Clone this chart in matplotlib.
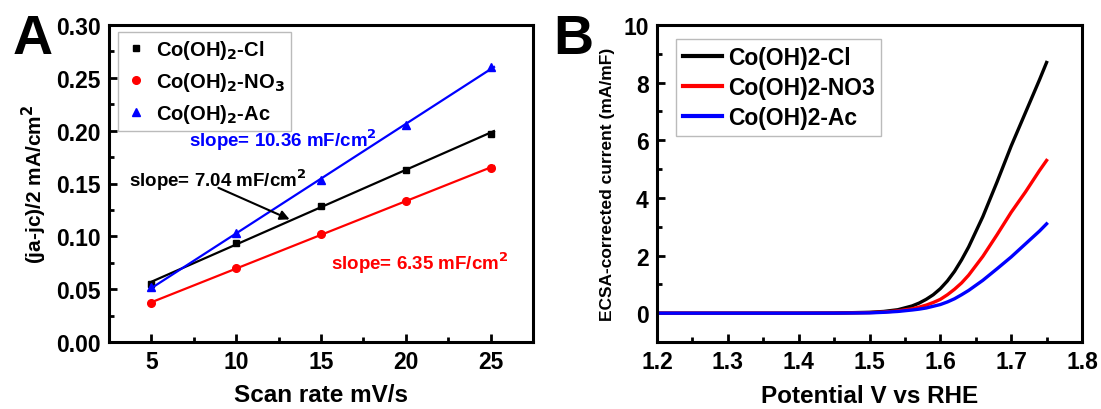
import matplotlib
matplotlib.use("Agg")
import matplotlib.pyplot as plt
import numpy as np
from matplotlib.ticker import MultipleLocator

plt.rcParams['font.family'] = ['Liberation Sans', 'DejaVu Sans']
plt.rcParams['font.weight'] = 'bold'
plt.rcParams['mathtext.default'] = 'bf'

# ---------------- Data: panel A ----------------
scan_rate = [5, 10, 15, 20, 25]
cl_vals = [0.055, 0.094, 0.129, 0.163, 0.197]
no3_vals = [0.037, 0.070, 0.102, 0.133, 0.165]
ac_vals = [0.052, 0.103, 0.153, 0.205, 0.260]
labels_a = [r'Co(OH)$_2$-Cl', r'Co(OH)$_2$-NO$_3$', r'Co(OH)$_2$-Ac']
slope_texts = ['slope= 7.04 mF/cm$^2$', 'slope= 6.35 mF/cm$^2$', 'slope= 10.36 mF/cm$^2$']

# ---------------- Data: panel B ----------------
potential = [1.20, 1.30, 1.40, 1.45, 1.50, 1.52, 1.54, 1.56, 1.57, 1.58, 1.59, 1.60,
             1.61, 1.62, 1.63, 1.64, 1.66, 1.68, 1.70, 1.72, 1.74, 1.75]
cur_cl = [0.0, 0.0, 0.0, 0.005, 0.03, 0.06, 0.12, 0.25, 0.35, 0.48, 0.64, 0.85,
          1.12, 1.45, 1.85, 2.3, 3.35, 4.55, 5.8, 6.95, 8.1, 8.7]
cur_no3 = [0.0, 0.0, 0.0, 0.003, 0.02, 0.04, 0.08, 0.15, 0.21, 0.28, 0.37, 0.48,
           0.64, 0.83, 1.05, 1.32, 1.97, 2.72, 3.5, 4.2, 4.95, 5.3]
cur_ac = [0.0, 0.0, 0.0, 0.002, 0.01, 0.03, 0.06, 0.11, 0.14, 0.18, 0.24, 0.30,
          0.39, 0.5, 0.64, 0.79, 1.14, 1.54, 1.95, 2.4, 2.85, 3.1]
labels_b = ['Co(OH)2-Cl', 'Co(OH)2-NO3', 'Co(OH)2-Ac']

fig = plt.figure(figsize=(11.01, 4.10), dpi=100)
axA = fig.add_axes([109/1101, 67/410, 424/1101, 317/410])
axB = fig.add_axes([657/1101, 67/410, 425/1101, 317/410])

def style(ax):
    for s in ax.spines.values():
        s.set_linewidth(2.2)
    ax.tick_params(which='both', direction='in', width=2, top=False, right=False,
                   labelsize=16.5, pad=6)
    ax.tick_params(which='major', length=6)
    ax.tick_params(which='minor', length=3.5)
    for lab in ax.get_xticklabels() + ax.get_yticklabels():
        lab.set_fontweight('bold')

# ----- Panel A -----
x = np.array(scan_rate, dtype=float)
series = [(cl_vals, 'black', 's', 5), (no3_vals, 'red', 'o', 5.5), (ac_vals, 'blue', '^', 6)]
for (vals, col, mk, ms), lab in zip(series, labels_a):
    axA.plot(x, vals, linestyle='none', marker=mk, color=col, markersize=ms, label=lab)
    p = np.polyfit(x, vals, 1)
    xf = np.array([x[0], x[-1] + 0.2])
    axA.plot(xf, np.polyval(p, xf), color=col, lw=1.6)

axA.set_xlim(2.5, 27.5)
axA.set_ylim(0, 0.30)
axA.xaxis.set_major_locator(MultipleLocator(5))
axA.xaxis.set_minor_locator(MultipleLocator(2.5))
axA.yaxis.set_major_locator(MultipleLocator(0.05))
axA.yaxis.set_minor_locator(MultipleLocator(0.025))
axA.yaxis.set_major_formatter(matplotlib.ticker.FormatStrFormatter('%.2f'))
style(axA)
axA.set_xlabel('Scan rate mV/s', fontsize=17.5, fontweight='bold', labelpad=7)
axA.set_ylabel('(ja-jc)/2 mA/cm$^2$', fontsize=15, fontweight='bold', labelpad=5)

legA = axA.legend(loc='upper left', fontsize=14.5, frameon=True, fancybox=False,
                  handletextpad=0.4, borderpad=0.3, labelspacing=0.45,
                  handlelength=1.2, borderaxespad=0, bbox_to_anchor=(0.021, 0.978))
legA.get_frame().set_edgecolor('#aaaaaa')
legA.get_frame().set_linewidth(1.0)

axA.text(7.2, 0.192, slope_texts[2], color='blue', fontsize=13.5, fontweight='bold',
         va='center', ha='left')
axA.text(3.7, 0.154, slope_texts[0], color='black', fontsize=13.5, fontweight='bold',
         va='center', ha='left')
axA.text(15.6, 0.075, slope_texts[1], color='red', fontsize=13.5, fontweight='bold',
         va='center', ha='left')
axA.annotate('', xy=(13.3, 0.115), xytext=(8.8, 0.147),
             arrowprops=dict(arrowstyle='-|>', color='black', lw=1.5,
                             mutation_scale=14))

fig.text(13/1101, 1 - 40/410, 'A', fontsize=40, fontweight='bold', va='center', ha='left')

# ----- Panel B -----
for vals, col, lab in zip([cur_cl, cur_no3, cur_ac], ['black', 'red', 'blue'], labels_b):
    axB.plot(potential, vals, color=col, lw=2.4, label=lab)
axB.set_xlim(1.2, 1.8)
axB.set_ylim(-1, 10)
axB.xaxis.set_major_locator(MultipleLocator(0.1))
axB.xaxis.set_minor_locator(MultipleLocator(0.05))
axB.yaxis.set_major_locator(MultipleLocator(2))
axB.yaxis.set_minor_locator(MultipleLocator(1))
axB.xaxis.set_major_formatter(matplotlib.ticker.FormatStrFormatter('%.1f'))
style(axB)
axB.set_xlabel('Potential V vs RHE', fontsize=17.5, fontweight='bold', labelpad=8)
axB.set_ylabel('ECSA-corrected current (mA/mF)', fontsize=12.5, fontweight='bold', labelpad=6)

legB = axB.legend(loc='upper left', fontsize=16.5, frameon=True, fancybox=False,
                  handletextpad=0.25, borderpad=0.3, labelspacing=0.3,
                  handlelength=1.7, borderaxespad=0, bbox_to_anchor=(0.045, 0.955))
legB.get_frame().set_edgecolor('#aaaaaa')
legB.get_frame().set_linewidth(1.0)
for l in legB.get_lines():
    l.set_linewidth(3)

fig.text(553/1101, 1 - 40/410, 'B', fontsize=40, fontweight='bold', va='center', ha='left')

fig.savefig('out.png', dpi=100)
